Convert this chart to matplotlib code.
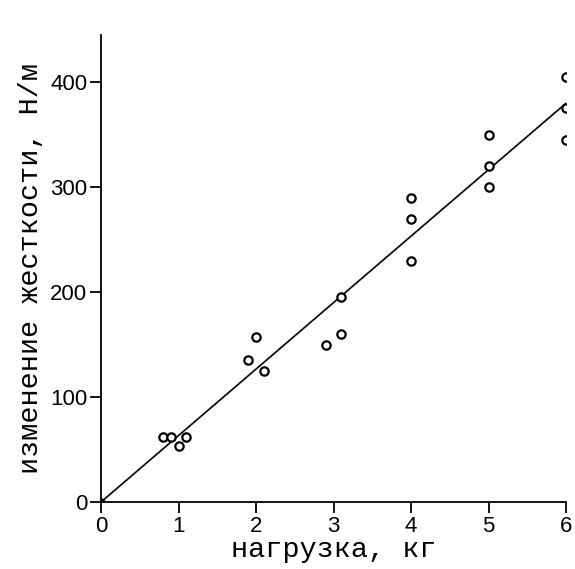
import matplotlib.pyplot as plt
import numpy as np

# load, kg
load = [0.8, 0.9, 1.0, 1.1, 1.9, 2.0, 2.1, 2.9, 3.1, 3.1,
        4.0, 4.0, 4.0, 5.0, 5.0, 5.0, 6.0, 6.0, 6.0]
# stiffness change, N/m
stiff = [62, 62, 53, 62, 135, 157, 125, 150, 160, 195,
         230, 270, 290, 300, 320, 350, 345, 375, 405]
# fitted line end points
fit_x = [0, 6]
fit_y = [0, 380]

fig = plt.figure(figsize=(5.75, 5.69), dpi=100)
ax = fig.add_axes([0.1757, 0.1177, 0.8087, 0.8208])

ax.plot(fit_x, fit_y, color='black', lw=1.2)
ax.plot(load, stiff, 'o', mfc='white', mec='black', ms=6, mew=1.6, ls='none')
ax.plot([0], [0], 'o', color='black', ms=5)

ax.set_xlim(0, 6)
ax.set_ylim(0, 445)
ax.set_xticks(range(0, 7))
ax.set_yticks([0, 100, 200, 300, 400])

for s in ('top', 'right'):
    ax.spines[s].set_visible(False)
for s in ('left', 'bottom'):
    ax.spines[s].set_linewidth(1.3)
ax.tick_params(direction='out', length=8, width=1.3, labelsize=16, pad=2)

mono = ['Liberation Mono', 'DejaVu Sans Mono']
ax.set_xlabel('нагрузка, кг', fontsize=20.5, family=mono, labelpad=0)
ax.set_ylabel('изменение жесткости, Н/м', fontsize=20.5, family=mono, labelpad=4)
for lbl in ax.get_xticklabels() + ax.get_yticklabels():
    lbl.set_family(['Liberation Sans', 'DejaVu Sans'])

fig.savefig('out.png', dpi=100)
